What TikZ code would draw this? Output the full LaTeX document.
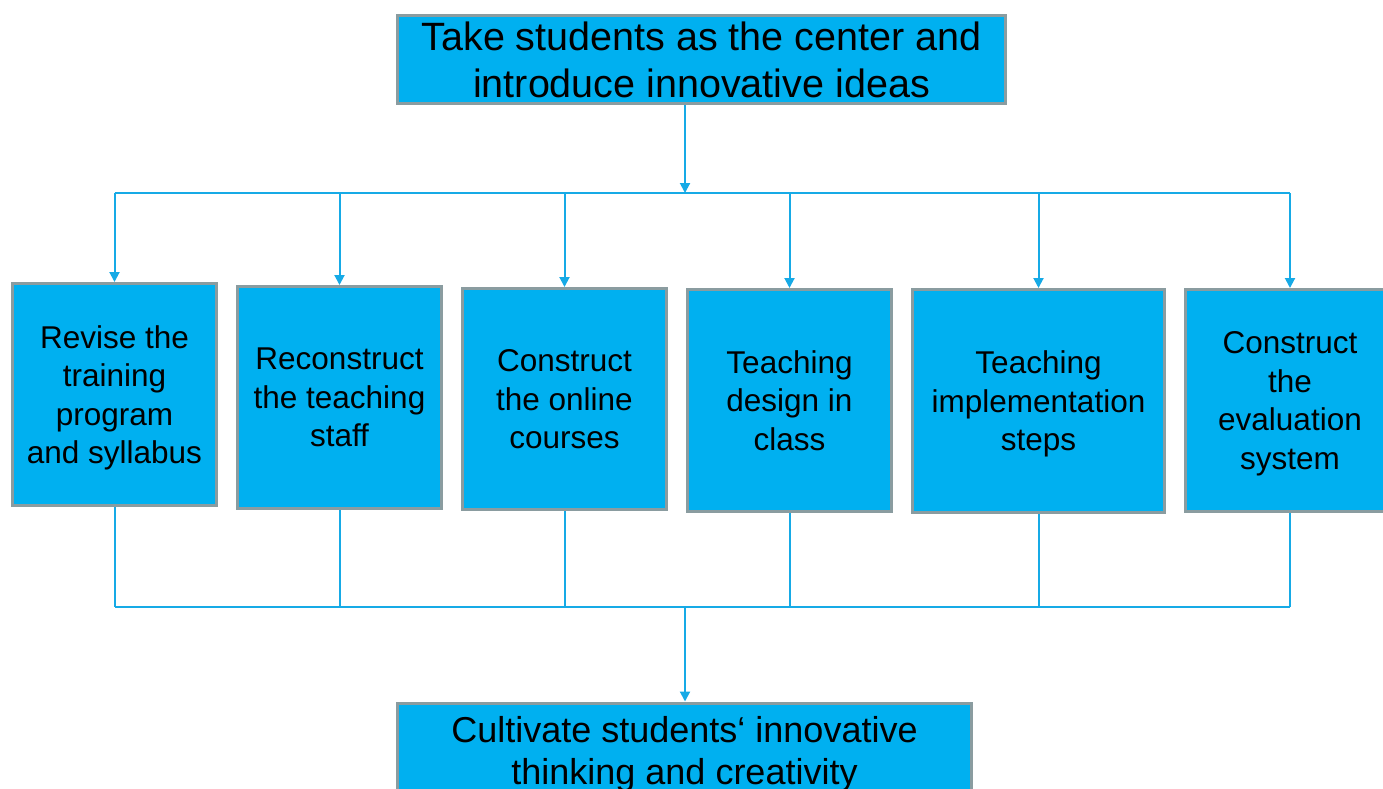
\documentclass[tikz,border=0pt]{standalone}
\usepackage{fontspec}
\setmainfont{Liberation Sans}
\usetikzlibrary{arrows.meta}
\definecolor{boxblue}{RGB}{0,176,240}
\definecolor{boxgray}{RGB}{138,156,160}
\definecolor{linkblue}{RGB}{22,170,230}

\begin{document}
\begin{tikzpicture}[x=1pt,y=-1pt,
    box/.style={draw=boxgray,line width=3pt,fill=boxblue,inner sep=0pt,
      text depth=0pt,align=center,font=\fontsize{31.5}{38.5}\selectfont},
    link/.style={draw=linkblue,line width=2pt},
    flow/.style={link,-{Triangle[length=10pt,width=10pt]}}]
    \useasboundingbox (0,0) rectangle (1383,789);

    %top and bottom
    \node [box,minimum width=608,minimum height=88,
           font=\fontsize{39.5}{47}\selectfont] (idea) at (701.5,59.5)
          {Take students as the center and\\introduce innovative ideas};
    \node [box,minimum width=574,minimum height=94,
           font=\fontsize{36}{42}\selectfont] (goal) at (684.5,750)
          {Cultivate students‘ innovative\\thinking and creativity};

    %the six steps
    \node [box,minimum width=204,minimum height=222] (revise) at (114.5,394.5)
          {Revise the\\training\\program\\and syllabus};
    \node [box,minimum width=204,minimum height=222] (staff) at (339.5,397.5)
          {Reconstruct\\the teaching\\staff};
    \node [box,minimum width=204,minimum height=221] (online) at (564.5,399)
          {Construct\\the online\\courses};
    \node [box,minimum width=204,minimum height=222] (design) at (789.5,400.5)
          {Teaching\\design in\\class};
    \node [box,minimum width=252,minimum height=223] (steps) at (1038.5,401)
          {Teaching\\implementation\\steps};
    \node [box,minimum width=209,minimum height=222] (system) at (1290,400.5)
          {Construct\\the\\evaluation\\system};

    %split and join
    \coordinate (split) at (685,193);
    \coordinate (join) at (685,607);
    \draw [flow] (idea.south -| split) -- (split);
    \draw [link] (revise.north |- split) -- (system.north |- split);
    \draw [link] (revise.south |- join) -- (system.south |- join);
    \foreach \s in {revise,staff,online,design,steps,system}
      {
      \draw [flow] (\s.north |- split) -- (\s.north);
      \draw [link] (\s.south) -- (\s.south |- join);
      }
    \draw [flow] (join) -- (goal.north -| join);

  \end{tikzpicture}
\end{document}
